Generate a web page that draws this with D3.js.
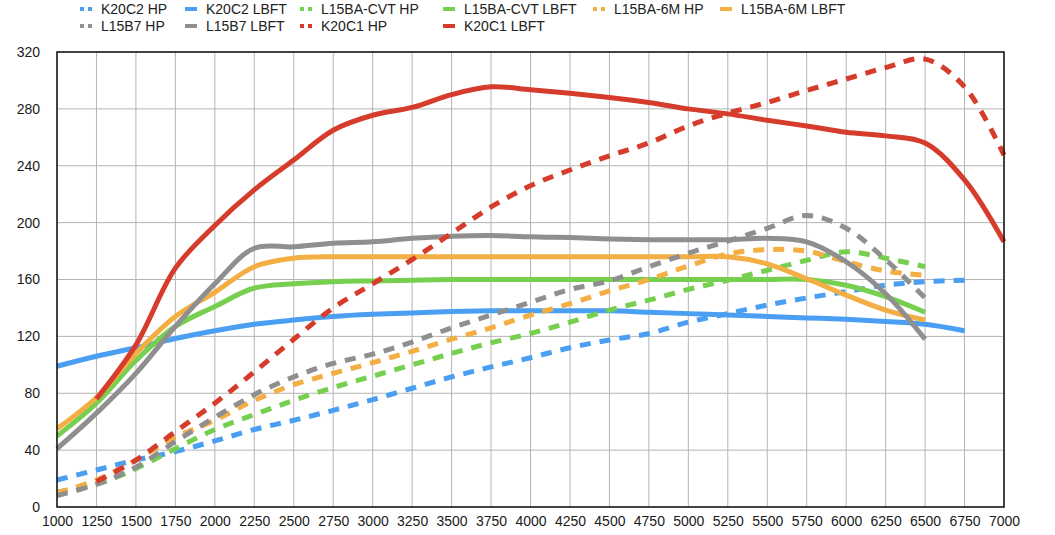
<!DOCTYPE html>
<html>
<head>
<meta charset="utf-8">
<script src="https://cdn.jsdelivr.net/npm/d3@7"></script>
<style>
  body { margin: 0; background: #fff; }
  svg { display: block; font-family: "Liberation Sans", Arial, sans-serif; }
</style>
</head>
<body>
<svg id="chart" width="1055" height="535"></svg>
<script>
// rpm categories
const rpm = [1000, 1250, 1500, 1750, 2000, 2250, 2500, 2750, 3000, 3250, 3500, 3750,
  4000, 4250, 4500, 4750, 5000, 5250, 5500, 5750, 6000, 6250, 6500, 6750, 7000];
const yTicks = [0, 40, 80, 120, 160, 200, 240, 280, 320];

// values, one per rpm step (null = no data)
const k20c2Hp   = [19, 26, 33, 39, 46.5, 54.5, 61, 68, 75.5, 83.5, 91.5, 98.5, 105, 112, 117.5, 122, 130, 136, 142, 147, 151.5, 156, 158.5, 159.5, null];
const k20c2Lbft = [99, 106, 112, 118.5, 124, 128.5, 131.5, 134, 135.5, 136.5, 137.5, 138, 138, 138, 138, 137, 136, 135, 134, 133, 132, 130.5, 128.5, 124, null];
const cvtHp     = [10.5, 16, 27, 41, 54.5, 65, 75, 84, 92, 100, 108, 115.5, 122, 130, 138.5, 145.5, 153, 159.5, 166.5, 173.5, 179.5, 175, 169, null, null];
const cvtLbft   = [50, 73, 103, 127, 141, 154, 157, 158.5, 159, 159.5, 160, 160, 160, 160, 160, 160, 160, 160, 160, 160, 156, 148, 137, null, null];
const m6Hp      = [10, 19, 33, 49, 61, 75, 86, 94, 101.5, 109.5, 118, 126, 135, 143, 152, 160, 169.5, 178, 181, 180, 172.5, 166, 163, null, null];
const m6Lbft    = [55, 77, 108, 134, 151, 169, 175, 176, 176, 176, 176, 176, 176, 176, 176, 176, 176, 176, 171, 160.5, 149, 138.5, 131.5, null, null];
const b7Hp      = [8, 16, 28, 46, 63, 79, 91.5, 101, 107.5, 116, 126, 135, 144, 153, 159, 169, 178.5, 187, 196, 205, 196, 174, 147, null, null];
const b7Lbft    = [41, 66, 94, 127, 157, 182, 183, 185.5, 186.5, 189, 190.5, 191, 190, 189.5, 188.5, 188, 188, 188, 189, 186.5, 172.5, 150, 118, null, null];
const k20c1Hp   = [null, 18, 33, 53, 73, 95, 118, 140, 157, 174, 192.5, 211, 226, 237, 247, 256, 268, 277, 284.5, 293, 301, 309, 315, 295.5, 247.5];
const k20c1Lbft = [null, 76, 114, 168, 198, 223, 244, 265, 275.5, 281, 290, 295.5, 293.5, 291, 288, 284.5, 280, 276.5, 272, 268, 263.5, 261, 256, 230, 186.5];

const blue = '#4a9ff2', green = '#76cf4f', orange = '#f3ae44', gray = '#8f8f8f', red = '#d63c2b';

const series = [
  { name: 'K20C2 HP', values: k20c2Hp, color: blue, dashed: true },
  { name: 'K20C2 LBFT', values: k20c2Lbft, color: blue, dashed: false },
  { name: 'L15BA-CVT HP', values: cvtHp, color: green, dashed: true },
  { name: 'L15BA-CVT LBFT', values: cvtLbft, color: green, dashed: false },
  { name: 'L15BA-6M HP', values: m6Hp, color: orange, dashed: true },
  { name: 'L15BA-6M LBFT', values: m6Lbft, color: orange, dashed: false },
  { name: 'L15B7 HP', values: b7Hp, color: gray, dashed: true },
  { name: 'L15B7 LBFT', values: b7Lbft, color: gray, dashed: false },
  { name: 'K20C1 HP', values: k20c1Hp, color: red, dashed: true },
  { name: 'K20C1 LBFT', values: k20c1Lbft, color: red, dashed: false }
];

const svg = d3.select('#chart');
const margin = { top: 52, right: 51, bottom: 28, left: 57 };
const width = 1055 - margin.left - margin.right;
const height = 535 - margin.top - margin.bottom;

const x = d3.scaleLinear().domain([1000, 7000]).range([0, width]);
const y = d3.scaleLinear().domain([0, 320]).range([height, 0]);

const g = svg.append('g').attr('transform', `translate(${margin.left},${margin.top})`);

// gridlines
g.append('g')
  .selectAll('line')
  .data(rpm)
  .join('line')
  .attr('x1', d => x(d)).attr('x2', d => x(d))
  .attr('y1', 0).attr('y2', height)
  .attr('stroke', '#b4b4b4')
  .attr('stroke-width', 1);

g.append('g')
  .selectAll('line')
  .data(yTicks)
  .join('line')
  .attr('x1', 0).attr('x2', width)
  .attr('y1', d => y(d)).attr('y2', d => y(d))
  .attr('stroke', '#b4b4b4')
  .attr('stroke-width', 1);

// axes (labels only)
const xAxis = g.append('g')
  .attr('transform', `translate(0,${height})`)
  .call(d3.axisBottom(x).tickValues(rpm).tickSize(0).tickPadding(9).tickFormat(d3.format('d')));
const yAxis = g.append('g')
  .call(d3.axisLeft(y).tickValues(yTicks).tickSize(0).tickPadding(17));
[xAxis, yAxis].forEach(a => {
  a.select('.domain').remove();
  a.selectAll('text').attr('font-size', 14).attr('fill', '#1a1a1a')
    .attr('font-family', '"Liberation Sans", Arial, sans-serif');
});

// lines
const line = d3.line()
  .defined(d => d[1] != null)
  .x(d => x(d[0]))
  .y(d => y(d[1]))
  .curve(d3.curveCatmullRom.alpha(0.5));

series.forEach(s => {
  g.append('path')
    .datum(rpm.map((r, i) => [r, s.values[i]]))
    .attr('d', line)
    .attr('fill', 'none')
    .attr('stroke', s.color)
    .attr('stroke-width', 5)
    .attr('stroke-dasharray', s.dashed ? '11,9' : null);
});

// frame
g.append('rect')
  .attr('width', width).attr('height', height)
  .attr('fill', 'none')
  .attr('stroke', '#111')
  .attr('stroke-width', 1.5);

// legend, two rows
const legendX = [80, 185, 300, 443, 593, 720];
const legend = svg.append('g');
series.forEach((s, i) => {
  const col = i < 6 ? i : i - 6;
  const row = i < 6 ? 0 : 1;
  const lx = legendX[col];
  const ly = 9 + row * 17;
  legend.append('line')
    .attr('x1', lx).attr('x2', lx + 12)
    .attr('y1', ly).attr('y2', ly)
    .attr('stroke', s.color)
    .attr('stroke-width', 4)
    .attr('stroke-dasharray', s.dashed ? '4,4' : null);
  legend.append('text')
    .attr('x', lx + 21)
    .attr('y', ly + 5)
    .attr('font-size', 14)
    .attr('fill', '#222')
    .text(s.name);
});
</script>
</body>
</html>
